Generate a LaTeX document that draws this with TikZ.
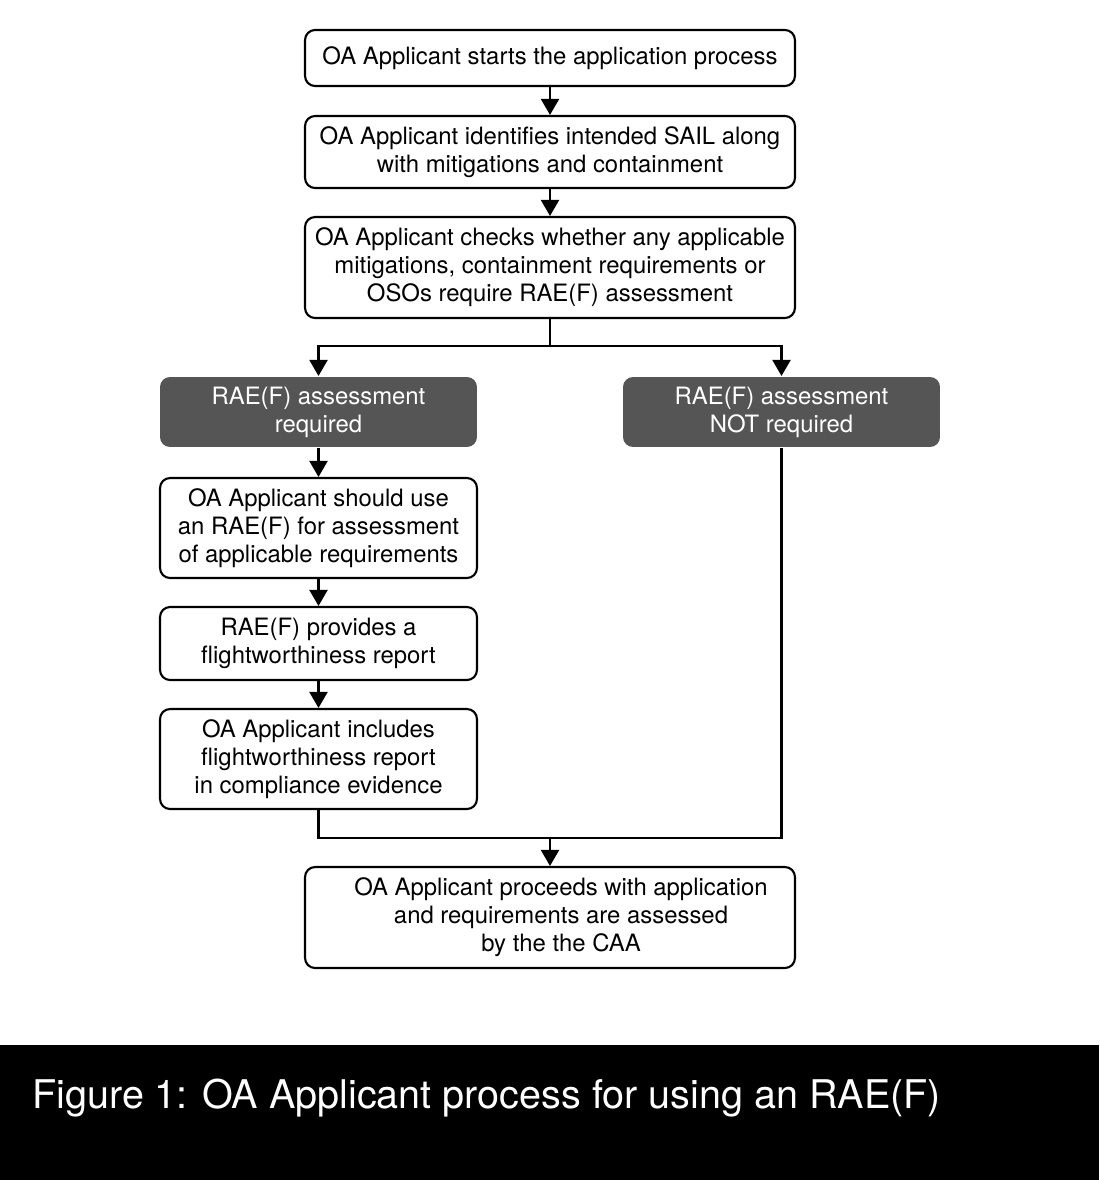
\documentclass[tikz,border=0pt]{standalone}
\usepackage{fontspec}
\setmainfont{TeX Gyre Heros}
\usepackage{tikz}
\usetikzlibrary{arrows.meta}
\definecolor{boxgrey}{HTML}{555555}

\begin{document}
\begin{tikzpicture}[x=0.02cm, y=-0.02cm,
		stepbox/.style={draw, line width=1.2pt, rounded corners=0.2cm, align=center, font=\fontsize{13.6}{15.9}\selectfont, inner sep=0pt},
		greybox/.style={stepbox, draw=none, fill=boxgrey, text=white, minimum width=6.34cm, minimum height=1.4cm},
		arr/.style={line width=1.2pt, -{Triangle[length=0.32cm, width=0.36cm]}},
		ln/.style={line width=1.2pt}]
			\useasboundingbox (0,0) rectangle (1099,1180);
			% Caption band
			\fill[black] (0,1045) rectangle (1099,1180);
			\node[anchor=base west, text=white, font=\fontsize{22.5}{26}\selectfont, inner sep=0pt] (caption) at (32,1108) {Figure 1: OA Applicant process for using an RAE(F)};
			% Main column
			\node[stepbox, minimum width=9.8cm, minimum height=1.12cm] (start) at (550,58) {OA Applicant starts the application process};
			\node[stepbox, minimum width=9.8cm, minimum height=1.44cm] (sail) at (550,152) {OA Applicant identifies intended SAIL along\\with mitigations and containment};
			\node[stepbox, minimum width=9.8cm, minimum height=2.02cm] (check) at (550,267.5) {OA Applicant checks whether any applicable\\mitigations, containment requirements or\\OSOs require RAE(F) assessment};
			% Decision
			\node[greybox] (req) at (318.5,412) {RAE(F) assessment\\required};
			\node[greybox] (notreq) at (781.5,412) {RAE(F) assessment\\NOT required};
			% Left branch
			\node[stepbox, minimum width=6.34cm, minimum height=2.0cm] (use) at (318.5,528) {OA Applicant should use\\an RAE(F) for assessment\\of applicable requirements};
			\node[stepbox, minimum width=6.34cm, minimum height=1.46cm] (report) at (318.5,643.5) {RAE(F) provides a\\flightworthiness report};
			\node[stepbox, minimum width=6.34cm, minimum height=2.0cm] (include) at (318.5,759) {OA Applicant includes\\flightworthiness report\\in compliance evidence};
			% End (text sits a little right of centre)
			\node[stepbox, minimum width=9.8cm, minimum height=2.02cm] (proceed) at (550,917.5) {\hspace*{0.44cm}OA Applicant proceeds with application\\\hspace*{0.44cm}and requirements are assessed\\\hspace*{0.44cm}by the the CAA};
			\coordinate (split) at (550,346);
			\coordinate (merge) at (550,838);
			% Connectors
			\draw[arr] (start) -- (sail);
			\draw[arr] (sail) -- (check);
			\draw[ln] (check) -- (split);
			\draw[arr] (split) -| (req);
			\draw[arr] (split) -| (notreq);
			\draw[arr] (req) -- (use);
			\draw[arr] (use) -- (report);
			\draw[arr] (report) -- (include);
			\draw[ln] (include) |- (merge);
			\draw[ln] (notreq) |- (merge);
			\draw[arr] (merge) -- (proceed);
		\end{tikzpicture}
\end{document}
